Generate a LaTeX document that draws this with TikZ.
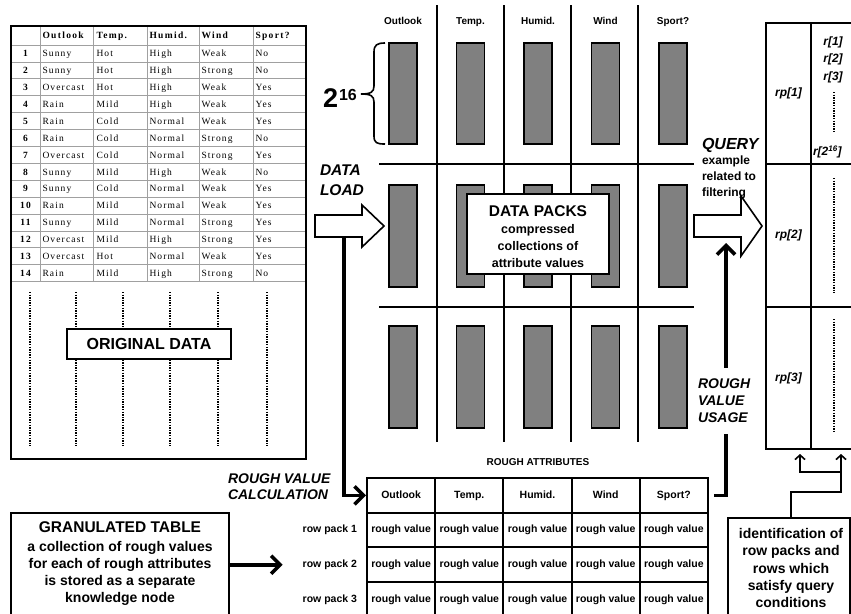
\documentclass[tikz,border=0pt]{standalone}
\usepackage{fontspec}
\setmainfont{Liberation Sans}
\newfontfamily\tabfont{Liberation Serif}[LetterSpace=12]
\newfontfamily\tabhfont{Liberation Serif}[LetterSpace=14]
\usetikzlibrary{arrows.meta,calc}
\definecolor{bargray}{RGB}{128,128,128}
\definecolor{gridgray}{RGB}{160,160,160}
\newcommand{\fsz}[1]{\fontsize{#1}{#1}\selectfont}
\newcommand{\fszb}[2]{\fontsize{#1}{#2}\selectfont}
\begin{document}
\begin{tikzpicture}[x=1pt,y=-1pt,
  txt/.style={inner sep=0pt, outer sep=0pt},
  tcell/.style={txt, anchor=base west, font=\tabfont\fsz{9.5}},
  thd/.style={txt, anchor=base west, font=\tabhfont\bfseries\fsz{9.5}},
  tnum/.style={txt, anchor=base, font=\tabfont\bfseries\fsz{9.5}},
  tgrid/.style={gridgray, line width=0.7pt},
  vdots/.style={line width=1.6pt, dash pattern=on 1.3pt off 1.3pt},
  packbar/.style={draw, fill=bargray, line width=1.6pt},
  colsep/.style={line width=1.6pt},
  colhd/.style={txt, anchor=base, font=\bfseries\fsz{10}},
  wbox/.style={draw, line width=2pt, fill=white, inner sep=0pt},
  blockarrow/.style={draw, fill=white, line width=1.6pt, line join=miter},
  fat/.style={line width=3.6pt, -{Straight Barb[length=9pt,width=18pt]}},
  slim/.style={line width=1.6pt, -{Straight Barb[length=4.5pt,width=10pt]}},
  rcell/.style={draw, line width=2pt, minimum width=68.2pt, minimum height=34.7pt, inner sep=0pt,
    text height=7.6pt, text depth=2.2pt, font=\bfseries\fsz{10.5}},
  pcell/.style={draw, line width=2pt, inner sep=0pt, font=\bfseries\itshape\fsz{12}},
]
\fill[white] (0,0) rectangle (851,613);
\useasboundingbox (0,0) rectangle (851,613);

% ---------------- original data table
\foreach \x in {40,93,147,199,253} \draw[tgrid] (\x,26) -- (\x,281.6);
\foreach \k in {0,...,14} \draw[tgrid] (11,45+16.9*\k) -- (306,45+16.9*\k);
\node[thd] (th1) at (42.5,38.7) {Outlook};
\node[thd] (th2) at (96.5,38.7) {Temp.};
\node[thd] (th3) at (149.5,38.7) {Humid.};
\node[thd] (th4) at (201.5,38.7) {Wind};
\node[thd] (th5) at (255.5,38.7) {Sport?};
\foreach \n/\a/\b/\c/\d/\e in {
 1/Sunny/Hot/High/Weak/No, 2/Sunny/Hot/High/Strong/No, 3/Overcast/Hot/High/Weak/Yes,
 4/Rain/Mild/High/Weak/Yes, 5/Rain/Cold/Normal/Weak/Yes, 6/Rain/Cold/Normal/Strong/No,
 7/Overcast/Cold/Normal/Strong/Yes, 8/Sunny/Mild/High/Weak/No, 9/Sunny/Cold/Normal/Weak/Yes,
 10/Rain/Mild/Normal/Weak/Yes, 11/Sunny/Mild/Normal/Strong/Yes, 12/Overcast/Mild/High/Strong/Yes,
 13/Overcast/Hot/Normal/Weak/Yes, 14/Rain/Mild/High/Strong/No} {
  \pgfmathsetmacro{\yb}{53.5+(\n-1)*16.9+3.2}
  \node[tnum] (tn\n) at (25.5,\yb) {\n};
  \node[tcell] (ta\n) at (42.5,\yb) {\a};
  \node[tcell] (tb\n) at (96.5,\yb) {\b};
  \node[tcell] (tc\n) at (149.5,\yb) {\c};
  \node[tcell] (td\n) at (201.5,\yb) {\d};
  \node[tcell] (te\n) at (255.5,\yb) {\e};
}
\foreach \x in {30,76,123,170,218,267} \draw[vdots] (\x,292) -- (\x,446);
\draw[line width=2.2pt] (11,26) rectangle (306,459);
\node[wbox, minimum width=164pt, minimum height=30pt, font=\bfseries\fsz{16}] (orig) at (149,344) {ORIGINAL DATA};

% ---------------- data packs grid
\foreach \x in {437,504,571,638} \draw[colsep] (\x,5) -- (\x,442);
\foreach \y in {164,307} \draw[colsep] (379,\y) -- (694,\y);
\foreach \cx/\lab [count=\i] in {403/Outlook,470.5/Temp.,538/Humid.,605.5/Wind,673/Sport?} {
  \node[colhd] (ch\i) at (\cx,24.6) {\lab};
  \foreach \ya/\yb in {43/144,185/287,326/428} \draw[packbar] (\cx-14,\ya) rectangle (\cx+14,\yb);
}
\draw[line width=1.6pt] (385,43) .. controls (377,43) and (374,45) .. (374,52) -- (374,86)
  .. controls (374,92) and (371,94) .. (361,94)
  .. controls (371,94) and (374,96) .. (374,102) -- (374,136)
  .. controls (374,143) and (377,144) .. (385,144);
\node[txt, anchor=base west, font=\bfseries\fsz{27}] (pow) at (323,107) {2\hspace{1pt}\raisebox{7pt}{\fsz{16}16}};

% data load
\node[txt, anchor=north west, align=left, font=\bfseries\itshape\fszb{15.5}{20}] (dl) at (320,164.5) {DATA\\LOAD};
\draw[blockarrow] (315,215) -- (362,215) -- (362,205) -- (384,226) -- (362,247) -- (362,237) -- (315,237) -- cycle;
\coordinate (dlfoot) at (344,237);

% data packs box
\node[wbox, minimum width=142pt, minimum height=80pt] (dp) at (538,234) {};
\node[txt, anchor=base, font=\bfseries\fsz{15.5}] (dpt) at (538,216) {DATA PACKS};
\node[txt, anchor=north, align=center, font=\bfseries\fszb{12.5}{17}] (dpb) at (538,224) {compressed\\collections of\\attribute values};

% query
\node[txt, anchor=base west, font=\bfseries\itshape\fsz{16}] (q) at (702,149.7) {QUERY};
\node[txt, anchor=north west, align=left, font=\bfseries\fszb{12}{16}] (qd) at (702,156) {example\\related to\\filtering};
\draw[blockarrow] (694,215) -- (741,215) -- (741,196) -- (762,226) -- (741,256) -- (741,237) -- (694,237) -- cycle;
\coordinate (qfoot) at (726,243);

% rough attributes table
\node[txt, anchor=base, font=\bfseries\fsz{10}] (rat) at (538,465.5) {ROUGH ATTRIBUTES};
\foreach \lab [count=\i] in {Outlook,Temp.,Humid.,Wind,Sport?}
  \node[rcell] (ra\i) at ({401.1+68.2*(\i-1)},495.35) {\lab};
\foreach \r in {1,2,3} {
  \node[txt, anchor=east, font=\bfseries\fsz{10.5}] (rowlab\r) at (357,{495.35+34.7*\r}) {row pack \r};
  \foreach \i in {1,...,5}
    \node[rcell] (rv\r\i) at ({401.1+68.2*(\i-1)},{495.35+34.7*\r}) {rough value};
}
\node[txt, anchor=north west, align=left, font=\bfseries\itshape\fszb{14}{16}] (rvc) at (228,474) {ROUGH VALUE\\CALCULATION};
\draw[fat] (dlfoot) |- (ra1.west);

% usage arrow
\draw[fat] ([xshift=5pt]ra5.east) -| (qfoot);
\node[txt, fill=white, inner ysep=11pt, anchor=north west, align=left, font=\bfseries\itshape\fszb{14}{17}] (usage) at (698,368) {ROUGH\\VALUE\\USAGE};

% granulated table
\node[wbox, minimum width=218pt, minimum height=104pt] (gran) at (120,565) {};
\node[txt, anchor=base, font=\bfseries\fsz{15.5}] (grant) at (120,532.5) {GRANULATED TABLE};
\node[txt, anchor=north, align=center, font=\bfseries\fszb{14}{17}] (granb) at (120,541) {a collection of rough values\\for each of rough attributes\\is stored as a separate\\knowledge node};
\draw[fat] (gran.east |- rowlab2) -- ([xshift=-20pt]rowlab2.west);

% right panel
\node[pcell, minimum width=45pt, minimum height=141pt] (rp1) at (788.5,93.5) {rp[1]};
\node[pcell, minimum width=45pt, minimum height=143pt] (rp2) at (788.5,235.5) {rp[2]};
\node[pcell, minimum width=45pt, minimum height=142pt] (rp3) at (788.5,378) {rp[3]};
\node[pcell, minimum width=42pt, minimum height=141pt] (rc1) at (832,93.5) {};
\node[pcell, minimum width=42pt, minimum height=143pt] (rc2) at (832,235.5) {};
\node[pcell, minimum width=42pt, minimum height=142pt] (rc3) at (832,378) {};
\node[txt, anchor=north, align=center, font=\bfseries\itshape\fszb{12}{17.5}] (rlist) at (833,36.5) {r[1]\\r[2]\\r[3]};
\draw[vdots] (834,92) -- (834,132);
\node[txt, anchor=west, font=\bfseries\itshape\fsz{12}] (rlast) at (813,152) {r[2\textsuperscript{16}]};
\draw[vdots] (834,178) -- (834,293);
\draw[vdots] (834,319) -- (834,433);

% identification
\node[wbox, minimum width=122pt, minimum height=98pt] (idb) at (789,567) {};
\node[txt, anchor=north, align=center, font=\bfseries\fszb{14}{17.3}] (idt) at (791,528.4) {identification of\\row packs and\\rows which\\satisfy query\\conditions};
\coordinate (ta) at (800,454);
\coordinate (tb) at (841,454);
\draw[slim] ([xshift=2pt]idb.north) |- (841,492) -- (tb);
\draw[slim] (841,472) -| (ta);
\end{tikzpicture}
\end{document}
